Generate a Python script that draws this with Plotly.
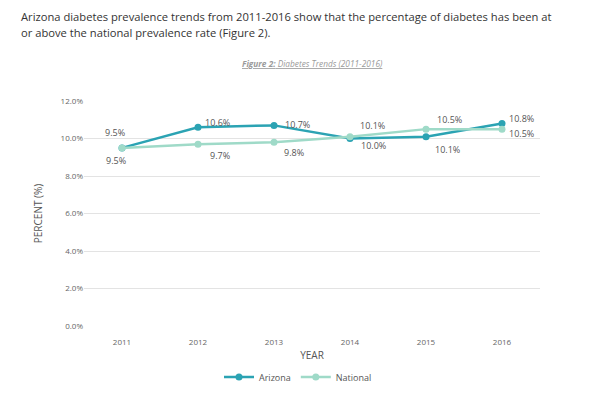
import plotly.graph_objects as go

years = ["2011", "2012", "2013", "2014", "2015", "2016"]
arizona = [9.5, 10.6, 10.7, 10.0, 10.1, 10.8]
national = [9.5, 9.7, 9.8, 10.1, 10.5, 10.5]
y_ticks = [0, 2, 4, 6, 8, 10, 12]

az_color = "#2ba3b3"
na_color = "#9fdac8"
font = "Open Sans"

# label offsets (pixels) for each point
az_off = [(-7, 15), (19, 5), (23, 1), (23, -7), (21, -13), (19, 5)]
na_off = [(-6, -13), (22, -11), (20, -10), (22, 11), (23, 10), (19, -4)]

fig = go.Figure()
fig.add_trace(go.Scatter(x=years, y=arizona, name="Arizona", mode="lines+markers",
                         line=dict(color=az_color, width=2.5),
                         marker=dict(size=7, color=az_color)))
fig.add_trace(go.Scatter(x=years, y=national, name="National", mode="lines+markers",
                         line=dict(color=na_color, width=2.5),
                         marker=dict(size=7, color=na_color)))

anns = []
for vals, offs in ((arizona, az_off), (national, na_off)):
    for i, (v, (dx, dy)) in enumerate(zip(vals, offs)):
        anns.append(dict(x=i, y=v, xref="x", yref="y", text=f"{v:.1f}%",
                         showarrow=False, xshift=dx, yshift=dy,
                         font=dict(family=font, size=9, color="#555555")))

PW, PH = 456, 225


def px(x):
    return (x - 84) / PW


def py(y):
    return 1 - (y - 101) / PH


anns.append(dict(xref="paper", yref="paper", x=px(20), y=py(16.5),
                 xanchor="left", yanchor="middle", showarrow=False, align="left", borderpad=0,
                 text="Arizona diabetes prevalence trends from 2011-2016 show that the percentage of diabetes has been at",
                 font=dict(family=font, size=11.2, color="#333333")))
anns.append(dict(xref="paper", yref="paper", x=px(20), y=py(32.5),
                 xanchor="left", yanchor="middle", showarrow=False, align="left", borderpad=0,
                 text="or above the national prevalence rate (Figure 2).",
                 font=dict(family=font, size=11.2, color="#333333")))
anns.append(dict(xref="paper", yref="paper", x=px(312), y=py(63),
                 xanchor="center", yanchor="middle", showarrow=False,
                 text="<u><b><i>Figure 2:</i></b><i> Diabetes Trends (2011-2016)</i></u>",
                 font=dict(family=font, size=8.3, color="#9a9a9a")))

fig.update_layout(
    width=592, height=391,
    margin=dict(l=76, r=60, t=93, b=73, autoexpand=False),
    paper_bgcolor="white", plot_bgcolor="white",
    showlegend=True,
    legend=dict(orientation="h", x=px(298), xanchor="center", y=py(377), yanchor="middle",
                font=dict(family=font, size=9, color="#555555"), itemwidth=30),
    xaxis=dict(type="category", range=[-0.5, 5.5], showgrid=False, showline=False,
               ticks="outside", ticklen=8, tickcolor="rgba(0,0,0,0)",
               tickfont=dict(family=font, size=8, color="#666666"), automargin=False,
               title=dict(text="YEAR", font=dict(family=font, size=10, color="#555555"), standoff=6)),
    yaxis=dict(range=[0, 12], tickvals=y_ticks, ticktext=[f"{t:.1f}%" for t in y_ticks],
               showgrid=True, gridcolor="#e3e3e3", gridwidth=1, zeroline=False, showline=False,
               tickfont=dict(family=font, size=8, color="#666666"), ticks="", automargin=False,
               title=dict(text="PERCENT (%)", font=dict(family=font, size=10, color="#555555"), standoff=16)),
    annotations=anns,
)
fig.write_html("out.html")
